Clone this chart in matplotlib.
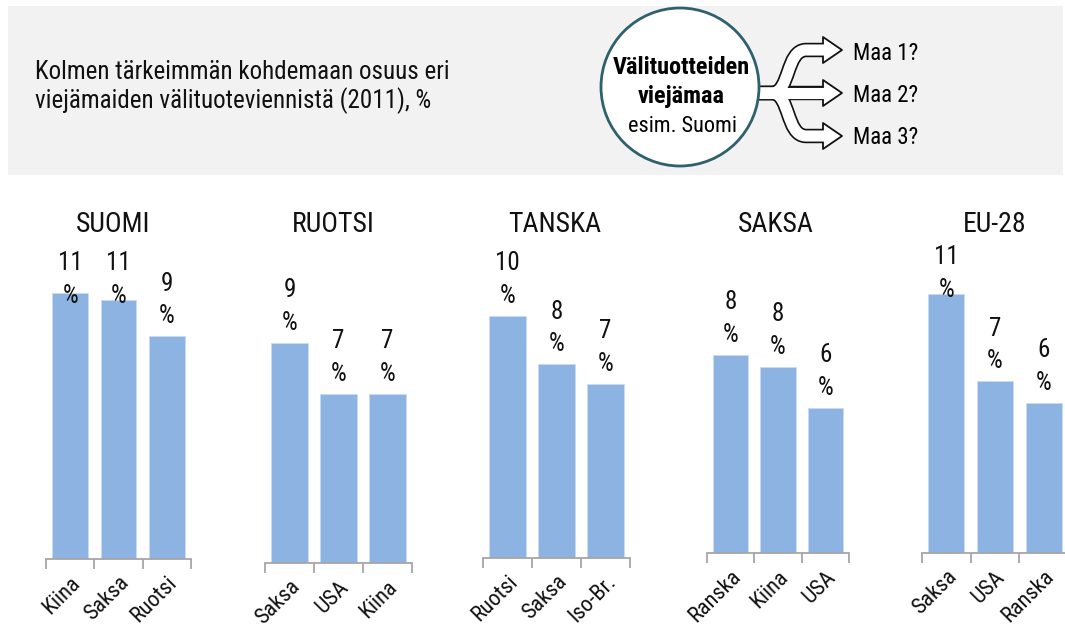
import matplotlib
matplotlib.use("Agg")
import matplotlib.pyplot as plt
from matplotlib import font_manager
from matplotlib.path import Path
from matplotlib.patches import PathPatch, Circle, Rectangle, Polygon

# ---------------- data ----------------
panel_titles = ["SUOMI", "RUOTSI", "TANSKA", "SAKSA", "EU-28"]
suomi_cats = ["Kiina", "Saksa", "Ruotsi"]
suomi_vals = [11.0, 10.7, 9.2]
ruotsi_cats = ["Saksa", "USA", "Kiina"]
ruotsi_vals = [9.1, 7.0, 7.0]
tanska_cats = ["Ruotsi", "Saksa", "Iso-Br."]
tanska_vals = [10.0, 8.0, 7.2]
saksa_cats = ["Ranska", "Kiina", "USA"]
saksa_vals = [8.2, 7.7, 6.0]
eu_cats = ["Saksa", "USA", "Ranska"]
eu_vals = [10.7, 7.1, 6.2]

header_title = "Kolmen tärkeimmän kohdemaan osuus eri\nviejämaiden välituoteviennistä (2011), %"
circle_lines = ["Välituotteiden", "viejämaa", "esim. Suomi"]
dest_labels = ["Maa 1?", "Maa 2?", "Maa 3?"]

# ---------------- fonts ----------------
avail = {f.name for f in font_manager.fontManager.ttflist}
FONT = "DejaVu Sans"
for cand in ["Liberation Sans Narrow", "Roboto Condensed", "Open Sans Condensed", "Liberation Sans"]:
    if cand in avail:
        FONT = cand
        break
plt.rcParams["font.family"] = [FONT, "DejaVu Sans"]

W, H = 1065, 630
fig = plt.figure(figsize=(W / 100, H / 100), dpi=100)
fig.patch.set_facecolor("white")

# overlay axes in pixel coordinates for header decorations
ov = fig.add_axes([0, 0, 1, 1], zorder=0)
ov.set_xlim(0, W)
ov.set_ylim(H, 0)
ov.axis("off")

ov.add_patch(Rectangle((8, 6), 1055, 169, facecolor="#f2f2f2", edgecolor="none", zorder=0))
ov.text(35, 72, header_title.split("\n")[0], fontsize=18, va="center", ha="left", color="#111111")
ov.text(35, 101, header_title.split("\n")[1], fontsize=18, va="center", ha="left", color="#111111")

# arrows (trident)
ys = [50, 93, 136]
def branch_path(yc):
    if yc == 93:
        verts = [(740, 93), (826, 93)]
        codes = [Path.MOVETO, Path.LINETO]
    else:
        verts = [(740, 93), (772, 93), (790, 93), (786, yc), (806, yc), (826, yc)]
        codes = [Path.MOVETO, Path.LINETO, Path.CURVE4, Path.CURVE4, Path.CURVE4, Path.LINETO]
    return Path(verts, codes)

for yc in ys:
    ov.add_patch(PathPatch(branch_path(yc), fill=False, edgecolor="#111111", lw=10.4,
                           capstyle="butt", joinstyle="round", zorder=2))
for yc in ys:
    ov.add_patch(Polygon([(823, yc - 13), (842, yc), (823, yc + 13)], closed=True,
                         facecolor="white", edgecolor="#111111", lw=1.3, joinstyle="round", zorder=3))
for yc in ys:
    p = branch_path(yc)
    ov.add_patch(PathPatch(p, fill=False, edgecolor="white", lw=8.0,
                           capstyle="butt", joinstyle="round", zorder=4))

ov.add_patch(Circle((680, 87), 79, facecolor="white", edgecolor="#2e606d", lw=2.0, zorder=5))
ov.text(681, 68, circle_lines[0], fontsize=17.5, fontweight="bold", ha="center", va="center", zorder=6)
ov.text(681, 97, circle_lines[1], fontsize=17.5, fontweight="bold", ha="center", va="center", zorder=6)
ov.text(682, 126, circle_lines[2], fontsize=16, ha="center", va="center", zorder=6)
for yc, lab in zip([53, 95, 137], dest_labels):
    ov.text(853, yc, lab, fontsize=16.5, ha="left", va="center", zorder=6)

# ---------------- small bar panels ----------------
panels = [
    (suomi_cats, suomi_vals, 46, 191, 559, 113),
    (ruotsi_cats, ruotsi_vals, 265, 412, 563, 333),
    (tanska_cats, tanska_vals, 483, 630, 558, 555),
    (saksa_cats, saksa_vals, 707, 849, 553, 776),
    (eu_cats, eu_vals, 922, 1068, 553, 995),
]
BAR = "#8db3e2"
AXC = "#a6a6a6"
PX_PER_UNIT = 24.2
YMAX = 12.2

for (cats, vals, x0, x1, base, tx), title in zip(panels, panel_titles):
    hpx = YMAX * PX_PER_UNIT
    ax = fig.add_axes([x0 / W, (H - base) / H, (x1 - x0) / W, hpx / H], zorder=3)
    ax.patch.set_alpha(0)
    ax.set_xlim(-0.5, 2.5)
    ax.set_ylim(0, YMAX)
    xs = list(range(len(cats)))
    ax.bar(xs, vals, width=0.74, color=BAR, edgecolor="#c9daf0", linewidth=0.6, zorder=2)
    for s in ["top", "right", "left"]:
        ax.spines[s].set_visible(False)
    ax.spines["bottom"].set_color(AXC)
    ax.spines["bottom"].set_linewidth(1.3)
    ax.set_yticks([])
    ax.set_xticks([-0.5, 0.5, 1.5, 2.5])
    ax.set_xticklabels([])
    ax.tick_params(axis="x", which="major", direction="out", length=7, width=1.3, color=AXC)
    for i, (c, v) in enumerate(zip(cats, vals)):
        yl = min(v + 1.5, 11.55)
        ax.text(i, yl, f"{round(v):d}\n%", ha="center", va="center", fontsize=18,
                linespacing=1.45, color="#111111", zorder=4)
        ax.annotate(c, xy=(i, 0), xycoords="data", xytext=(7, -21), textcoords="offset pixels",
                    rotation=45, rotation_mode="anchor", ha="right", va="center",
                    fontsize=16, color="#111111", annotation_clip=False)
    ov.text(tx, 225, title, fontsize=20, ha="center", va="center", color="#111111")

fig.savefig("out.png", dpi=100)
